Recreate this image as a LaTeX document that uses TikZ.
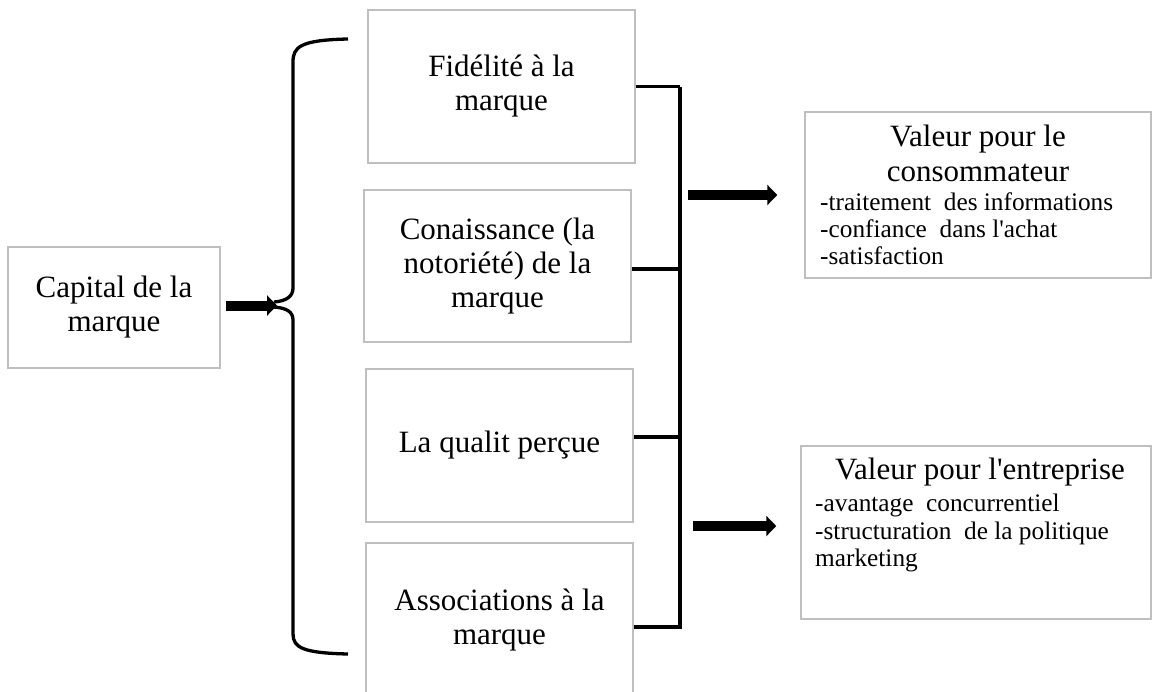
\documentclass[tikz,border=0pt]{standalone}
\usepackage{fontspec}
\setmainfont{Liberation Serif}
\usetikzlibrary{arrows.meta}
\newcommand\mainsz{\fontsize{31}{34}\selectfont}
\newcommand\listsz{\fontsize{25.3}{27}\selectfont}
\begin{document}
\begin{tikzpicture}[x=1pt,y=-1pt,
  box/.style={draw=gray!50, line width=1.5pt, rectangle, inner sep=0pt},
  mtext/.style={align=center, font=\mainsz},
  link/.style={line width=3.3pt},
  bigarrow/.style={line width=10pt, -{Triangle[length=10pt 0, width=20pt 0]}},
]
\clip (0,0) rectangle (1153,691);
\fill[white] (0,0) rectangle (1153,691);

% boxes
\node[box, mtext, minimum width=212pt, minimum height=121pt] (cap) at (114,307.5) {Capital de la\\marque};
\node[box, mtext, minimum width=267pt, minimum height=153pt] (fid) at (501.5,86.5) {Fidélité à la\\marque};
\node[box, mtext, minimum width=267pt, minimum height=152pt] (con) at (497.5,266) {Conaissance (la\\notoriété) de la\\marque};
\node[box, mtext, minimum width=267pt, minimum height=153pt] (qual) at (499.5,445.5) {La qualit perçue};
\node[box, mtext, minimum width=267pt, minimum height=155pt] (assoc) at (499.5,620.5) {Associations à la\\marque};
\node[box, minimum width=346pt, minimum height=166pt] (cons) at (978,195) {};
\node[box, minimum width=350pt, minimum height=173pt] (ent) at (976,532.5) {};

% texts of the right boxes
\node[anchor=north, inner sep=0pt, align=center, font=\fontsize{31}{35}\selectfont] (ctitle) at (978,125) {Valeur pour le\\consommateur};
\node[anchor=north west, inner sep=0pt, align=left, font=\listsz] (clist) at (820,192)
  {-traitement\ \ des informations\\-confiance\ \ dans l\textquotesingle achat\\-satisfaction};
\node[anchor=base, inner sep=0pt, font=\mainsz] (etitle) at (980,479) {Valeur pour l\textquotesingle entreprise};
\node[anchor=north west, inner sep=0pt, align=left, font=\fontsize{25.3}{27.5}\selectfont] (elist) at (815,494)
  {-avantage\ \ concurrentiel\\-structuration\ \ de la politique\\marketing};

% brace
\draw[link] (348,39) .. controls (300,40) and (293,47) .. (293,62) -- (293,288)
  .. controls (293,296) and (287,301) .. (274,302);
\draw[link] (274,307) .. controls (287,308) and (293,312) .. (293,320) -- (293,634)
  .. controls (293,648) and (304,653) .. (348,654);

% arrow from capital
\coordinate (brtip) at (277,305.5);
\coordinate (capout) at ([shift={(5pt,2pt)}]cap.east);
\draw[bigarrow] (capout) -- (capout -| brtip);

% bus
\coordinate (bustop) at (680,87);
\coordinate (busbot) at (680,627);
\coordinate (cj) at ([yshift=-3pt]con.east);
\coordinate (qj) at ([yshift=8.5pt]qual.east);
\coordinate (aj) at ([yshift=-6.5pt]assoc.east);
\draw[link] (fid.east) -- (fid.east -| bustop);
\draw[link] (cj) -- (cj -| bustop);
\draw[link] (qj) -- (qj -| bustop);
\draw[link, line join=miter] (aj) -- (aj -| busbot) -- (bustop);

% arrows to the value boxes
\coordinate (a1) at (688,195);
\draw[bigarrow, shorten >=27pt] (a1) -- (a1 -| cons.west);
\coordinate (a2) at (693,526);
\draw[bigarrow, shorten >=24pt] (a2) -- (a2 -| ent.west);
\end{tikzpicture}
\end{document}
